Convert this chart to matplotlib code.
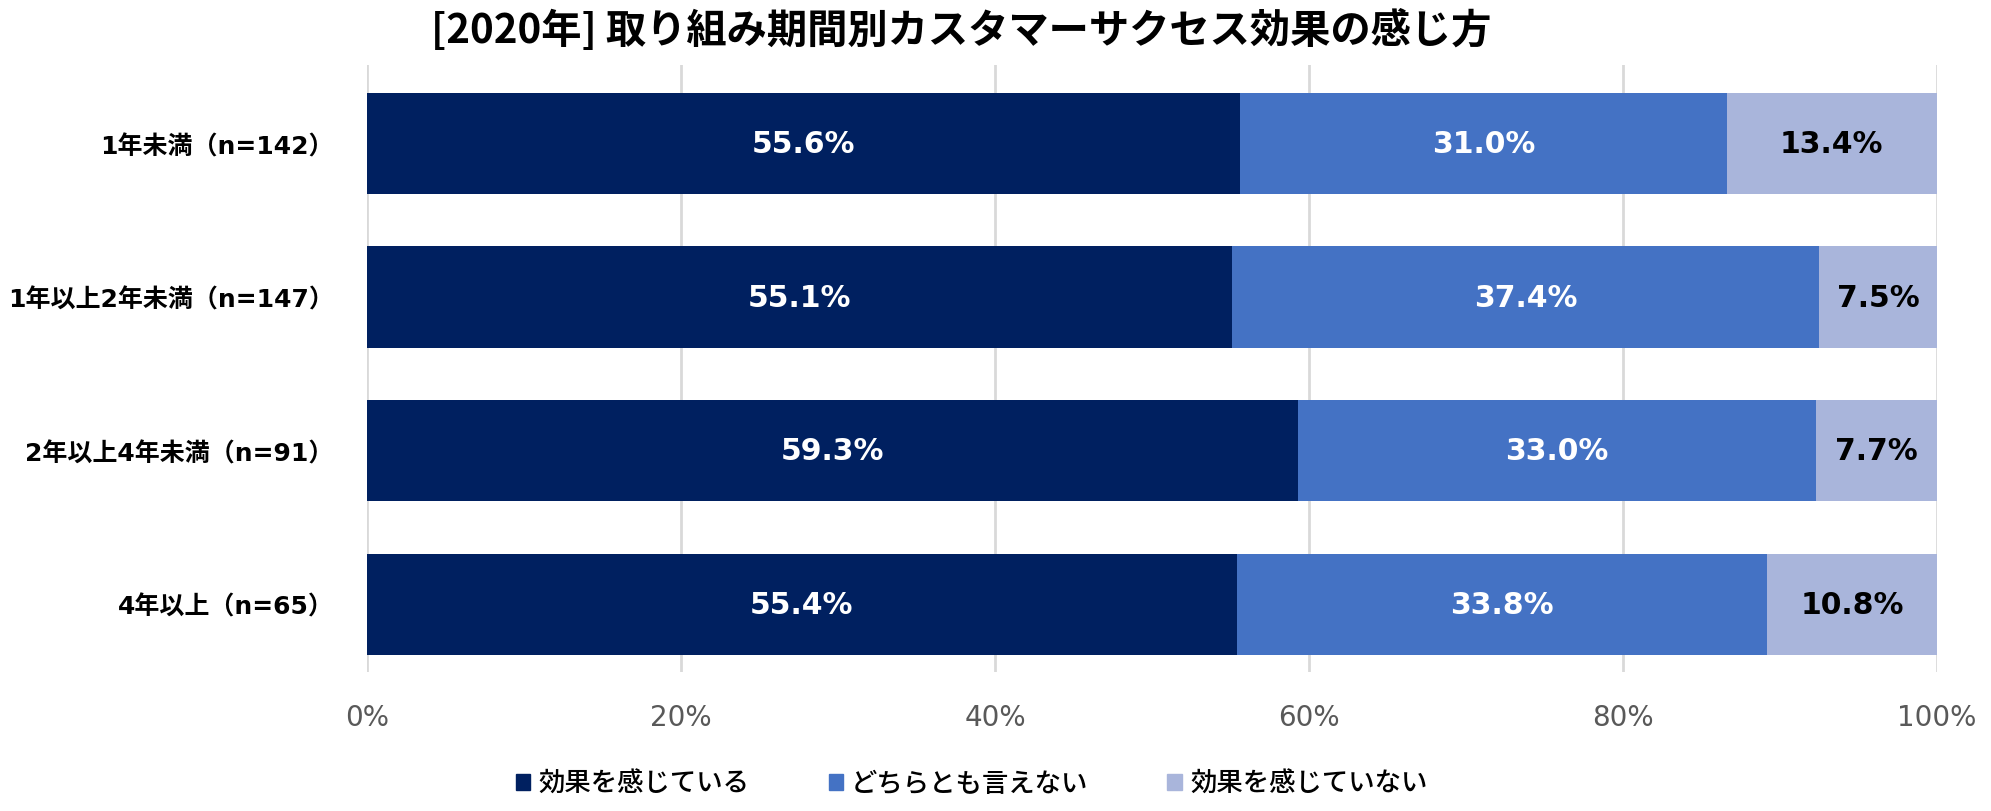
import numpy as np
import matplotlib
matplotlib.use('Agg')
from matplotlib import pyplot as plt
import matplotlib.patches as mpatches

plt.rcParams['font.family'] = ['DejaVu Sans', 'Noto Sans CJK JP']

# datos
categorias = ['1年未満（n=142）', '1年以上2年未満（n=147）', '2年以上4年未満（n=91）', '4年以上（n=65）']
series = ['効果を感じている', 'どちらとも言えない', '効果を感じていない']
efecto_si = [55.6, 55.1, 59.3, 55.4]
efecto_neutral = [31.0, 37.4, 33.0, 33.8]
efecto_no = [13.4, 7.5, 7.7, 10.8]
xticks = [0, 20, 40, 60, 80, 100]

colores = ['#002060', '#4472C4', '#A9B5DB']
color_texto = ['white', 'white', 'black']

fig = plt.figure(figsize=(19.91, 8.12), dpi=100)
ax = fig.add_axes([0.1843, 0.1712, 0.7886, 0.7475])

y = np.arange(len(categorias))
izq = np.zeros(len(categorias))
for valores, col, tcol in zip([efecto_si, efecto_neutral, efecto_no], colores, color_texto):
    valores = np.array(valores)
    barras = ax.barh(y, valores, left=izq, height=0.66, color=col, zorder=3)
    for b, v in zip(barras, valores):
        ax.text(b.get_x() + b.get_width() / 2, b.get_y() + b.get_height() / 2,
                '%.1f%%' % v, ha='center', va='center', color=tcol,
                fontsize=21.5, fontweight='bold', zorder=4)
    izq = izq + valores

ax.set_xlim(0, 100)
ax.set_ylim(3.44, -0.51)
ax.set_xticks(xticks)
ax.set_xticklabels(['%d%%' % t for t in xticks], fontsize=20, color='#595959')
ax.set_yticks(y)
ax.set_yticklabels(categorias, fontsize=18, fontweight='bold')
ax.tick_params(axis='both', length=0)
ax.tick_params(axis='y', pad=24)
ax.tick_params(axis='x', pad=22)
ax.xaxis.grid(True, color='#D9D9D9', linewidth=2, zorder=0)
for s in ax.spines.values():
    s.set_visible(False)

fig.text(0.483, 0.962, '[2020年] 取り組み期間別カスタマーサクセス効果の感じ方',
         ha='center', va='center', fontsize=29, fontweight='bold',
         family=['Noto Sans CJK JP', 'DejaVu Sans'])

handles = [mpatches.Patch(color=c, label=s) for c, s in zip(colores, series)]
leg = fig.legend(handles=handles, loc='center', bbox_to_anchor=(0.488, 0.034), ncol=3,
                 frameon=False, handlelength=0.55, handleheight=0.55, handletextpad=0.3,
                 columnspacing=3.0,
                 prop={'family': ['Noto Sans CJK JP'], 'size': 19, 'weight': 'medium'})

fig.savefig('out.png', dpi=100)
